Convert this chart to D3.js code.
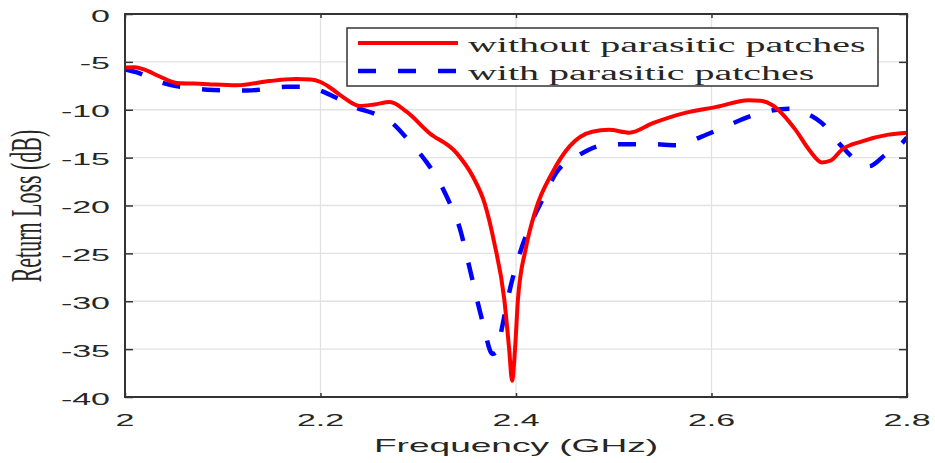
<!DOCTYPE html>
<html>
<head>
<meta charset="utf-8">
<script src="https://cdn.jsdelivr.net/npm/d3@7"></script>
<style>
  body { margin: 0; background: #fff; }
</style>
</head>
<body>
<svg id="chart" width="935" height="463"></svg>
<script>
// DATA
var freqNo = [2.000, 2.010, 2.020, 2.035, 2.053, 2.080, 2.114, 2.148, 2.175, 2.190, 2.200, 2.210, 2.222,
  2.240, 2.255, 2.271, 2.288, 2.311, 2.339, 2.356, 2.368, 2.378, 2.388, 2.393, 2.396, 2.399, 2.402,
  2.410, 2.420, 2.437, 2.455, 2.478, 2.495, 2.516, 2.540, 2.574, 2.605, 2.638, 2.650, 2.662, 2.686,
  2.700, 2.713, 2.722, 2.733, 2.754, 2.781, 2.800];
var lossNo = [-5.6, -5.55, -5.8, -6.5, -7.2, -7.3, -7.45, -7.0, -6.8, -6.85, -7.1, -7.7, -8.6,
  -9.6, -9.45, -9.2, -10.2, -12.4, -14.5, -17.0, -19.8, -24.0, -29.8, -35.0, -38.3, -35.0, -29.8,
  -24.5, -20.5, -16.6, -13.8, -12.3, -12.1, -12.4, -11.4, -10.3, -9.7, -9.0, -9.05, -9.5, -12.1,
  -14.2, -15.5, -15.3, -14.2, -13.3, -12.6, -12.4];

var freqWith = [2.000, 2.015, 2.030, 2.046, 2.065, 2.084, 2.125, 2.165, 2.186, 2.200, 2.215, 2.237,
  2.255, 2.271, 2.291, 2.308, 2.322, 2.332, 2.342, 2.352, 2.366, 2.376, 2.380, 2.386, 2.393, 2.403,
  2.417, 2.427, 2.441, 2.465, 2.495, 2.540, 2.564, 2.590, 2.611, 2.645, 2.679, 2.693, 2.713, 2.733,
  2.751, 2.761, 2.778, 2.792, 2.800];
var lossWith = [-5.8, -6.2, -6.9, -7.4, -7.7, -7.9, -8.0, -7.6, -7.6, -8.0, -8.7, -9.8,
  -10.4, -11.2, -13.3, -15.4, -17.6, -19.7, -22.2, -26.3, -32.2, -35.5, -35.3, -32.6, -29.1, -25.3,
  -21.5, -19.4, -16.6, -14.7, -13.6, -13.6, -13.7, -12.8, -11.9, -10.5, -9.9, -10.2, -11.4, -13.8,
  -15.5, -15.9, -14.7, -13.8, -12.9];

var xTicks = [2, 2.2, 2.4, 2.6, 2.8];
var yTicks = [0, -5, -10, -15, -20, -25, -30, -35, -40];
var seriesNames = ["without parasitic patches", "with parasitic patches"];

//---------------------------------------------------------------------------------
var margin = {top: 14, right: 28, bottom: 66, left: 125},
    width = 935 - margin.left - margin.right,
    height = 463 - margin.top - margin.bottom;

var svg = d3.select("#chart");
var g = svg.append("g")
  .attr("transform", "translate(" + margin.left + "," + margin.top + ")");

var x = d3.scaleLinear().domain([2, 2.8]).range([0, width]);
var y = d3.scaleLinear().domain([-40, 0]).range([height, 0]);

// grid
g.append("g").selectAll("line").data(xTicks.slice(1, -1)).enter().append("line")
  .attr("x1", function(d){ return x(d); }).attr("x2", function(d){ return x(d); })
  .attr("y1", 0).attr("y2", height)
  .attr("stroke", "#e2e2e2").attr("stroke-width", 1.3);
g.append("g").selectAll("line").data(yTicks.slice(1, -1)).enter().append("line")
  .attr("y1", function(d){ return y(d); }).attr("y2", function(d){ return y(d); })
  .attr("x1", 0).attr("x2", width)
  .attr("stroke", "#e2e2e2").attr("stroke-width", 1.3);

// clip for the curves
svg.append("defs").append("clipPath").attr("id", "clip")
  .append("rect").attr("width", width).attr("height", height);

var lineA = d3.line()
  .x(function(d){ return x(d[0]); })
  .y(function(d){ return y(d[1]); })
  .curve(d3.curveMonotoneX);

var dataNo = freqNo.map(function(f, i){ return [f, lossNo[i]]; });
var dataWith = freqWith.map(function(f, i){ return [f, lossWith[i]]; });

var curves = g.append("g").attr("clip-path", "url(#clip)");
curves.append("path").datum(dataWith)
  .attr("d", lineA).attr("fill", "none")
  .attr("stroke", "#0000ff").attr("stroke-width", 4.5)
  .attr("stroke-dasharray", "18,22");
curves.append("path").datum(dataNo)
  .attr("d", lineA).attr("fill", "none")
  .attr("stroke", "#ff0000").attr("stroke-width", 4);

// axes, ticks inward, box all round
var axisCol = "#333";
g.append("g").attr("transform", "translate(0," + height + ")")
  .call(d3.axisBottom(x).tickValues(xTicks).tickSize(-4).tickFormat(""));
g.append("g")
  .call(d3.axisTop(x).tickValues(xTicks).tickSize(-4).tickFormat(""));
g.append("g")
  .call(d3.axisLeft(y).tickValues(yTicks).tickSize(-8).tickFormat(""));
g.append("g").attr("transform", "translate(" + width + ",0)")
  .call(d3.axisRight(y).tickValues(yTicks).tickSize(-8).tickFormat(""));
g.selectAll(".domain").remove();
g.selectAll(".tick line").attr("stroke", axisCol).attr("stroke-width", 1.5);
g.append("rect").attr("width", width).attr("height", height)
  .attr("fill", "none").attr("stroke", axisCol).attr("stroke-width", 2);

// tick labels (text in the picture is stretched sideways)
g.selectAll(".ylab").data(yTicks).enter().append("text")
  .attr("transform", function(d){ return "translate(-15," + (y(d) + 7.5) + ") scale(2,1)"; })
  .attr("text-anchor", "end")
  .style("font-family", "Liberation Sans, Arial, sans-serif").style("font-size", "17px")
  .attr("fill", "#262626")
  .text(function(d){ return d; });
g.selectAll(".xlab").data(xTicks).enter().append("text")
  .attr("transform", function(d){ return "translate(" + x(d) + "," + (height + 29) + ") scale(2,1)"; })
  .attr("text-anchor", "middle")
  .style("font-family", "Liberation Sans, Arial, sans-serif").style("font-size", "17px")
  .attr("fill", "#262626")
  .text(function(d){ return d3.format("")(d); });

// axis titles
svg.append("text")
  .attr("transform", "translate(" + (margin.left + width / 2) + ",452) scale(1.95,1)")
  .attr("text-anchor", "middle")
  .style("font-family", "Liberation Sans, Arial, sans-serif").style("font-size", "19px")
  .attr("fill", "#262626")
  .text("Frequency (GHz)");
svg.append("text")
  .attr("transform", "translate(41,206) scale(2,1) rotate(-90)")
  .attr("text-anchor", "middle")
  .style("font-family", "Liberation Serif, Times New Roman, serif").style("font-size", "22px")
  .attr("fill", "#262626")
  .text("Return Loss (dB)");

// legend
var leg = svg.append("g");
leg.append("rect").attr("x", 347).attr("y", 28).attr("width", 531).attr("height", 58)
  .attr("fill", "#fff").attr("stroke", axisCol).attr("stroke-width", 1.5);
var legStyles = [{c: "#ff0000", w: 4, dash: null}, {c: "#0000ff", w: 4.5, dash: "18,22"}];
seriesNames.forEach(function(name, i){
  var ly = 43 + i * 28;
  leg.append("line").attr("x1", 358).attr("x2", 458).attr("y1", ly).attr("y2", ly)
    .attr("stroke", legStyles[i].c).attr("stroke-width", legStyles[i].w)
    .attr("stroke-dasharray", legStyles[i].dash);
  leg.append("text")
    .attr("transform", "translate(468," + (ly + 9) + ") scale(2,1)")
    .style("font-family", "Liberation Serif, Times New Roman, serif").style("font-size", "20px")
    .attr("fill", "#262626")
    .text(name);
});
</script>
</body>
</html>
